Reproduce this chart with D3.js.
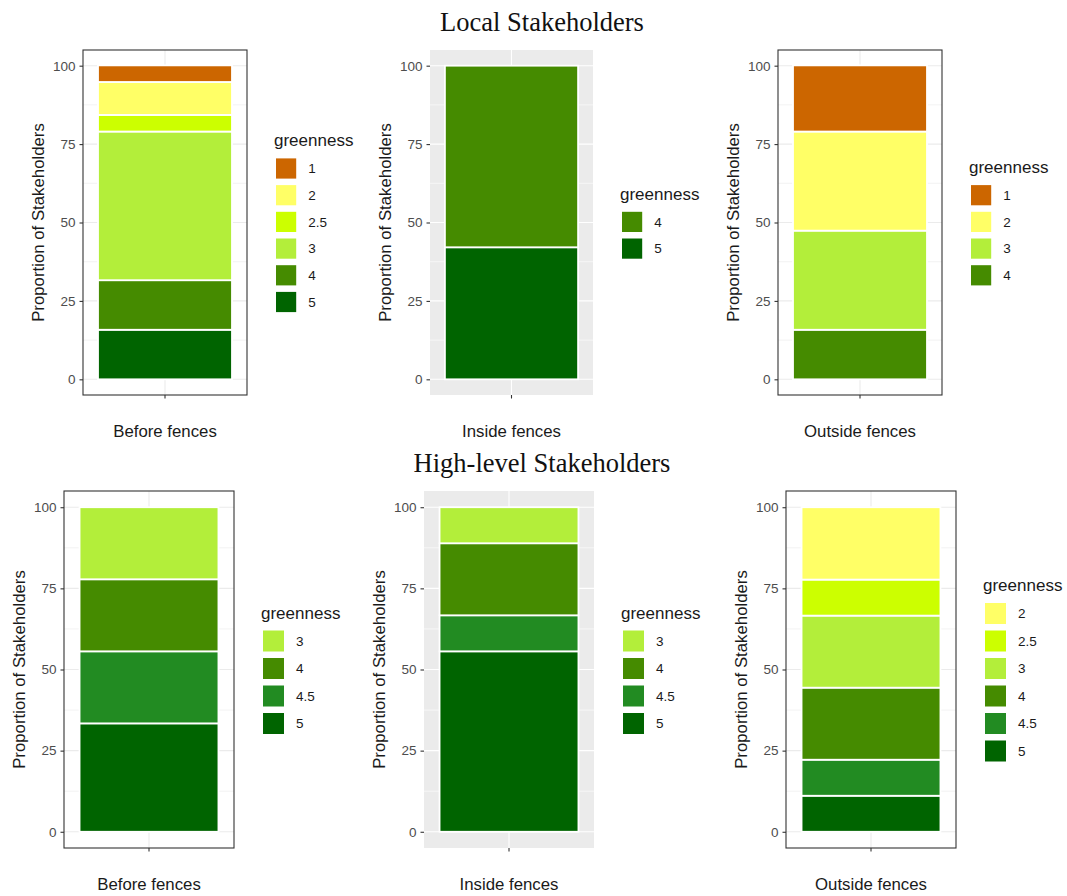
<!DOCTYPE html>
<html>
<head>
<meta charset="utf-8">
<script src="https://cdn.jsdelivr.net/npm/d3@7"></script>
<style>
  html, body { margin: 0; padding: 0; background: #ffffff; }
  svg { display: block; }
</style>
</head>
<body>
<div id="chart"></div>
<script>
// ---------- DATA ----------
const groupTitles = ["Local Stakeholders", "High-level Stakeholders"];
const categories = ["Before fences", "Inside fences", "Outside fences"];
const greennessLevels = ["1", "2", "2.5", "3", "4", "4.5", "5"];
const greennessColors = ["#CC6600", "#FFFF66", "#CCFF00", "#B3EE3A", "#458B00", "#228B22", "#006400"];
const yTicks = [0, 25, 50, 75, 100];
const yTitle = "Proportion of Stakeholders";
const legendTitle = "greenness";

// Local stakeholders (percent per greenness level, top-of-stack first)
const localBeforeLevels = ["1", "2", "2.5", "3", "4", "5"];
const localBeforeValues = [5.3, 10.5, 5.3, 47.4, 15.8, 15.8];
const localInsideLevels = ["4", "5"];
const localInsideValues = [57.9, 42.1];
const localOutsideLevels = ["1", "2", "3", "4"];
const localOutsideValues = [21.1, 31.6, 31.6, 15.8];

// High-level stakeholders
const highBeforeLevels = ["3", "4", "4.5", "5"];
const highBeforeValues = [22.2, 22.2, 22.2, 33.4];
const highInsideLevels = ["3", "4", "4.5", "5"];
const highInsideValues = [11.1, 22.2, 11.1, 55.6];
const highOutsideLevels = ["2", "2.5", "3", "4", "4.5", "5"];
const highOutsideValues = [22.3, 11.1, 22.2, 22.2, 11.1, 11.1];

const panelData = [
  { group: 0, category: 0, levels: localBeforeLevels, values: localBeforeValues },
  { group: 0, category: 1, levels: localInsideLevels, values: localInsideValues },
  { group: 0, category: 2, levels: localOutsideLevels, values: localOutsideValues },
  { group: 1, category: 0, levels: highBeforeLevels, values: highBeforeValues },
  { group: 1, category: 1, levels: highInsideLevels, values: highInsideValues },
  { group: 1, category: 2, levels: highOutsideLevels, values: highOutsideValues }
];

// ---------- LAYOUT (styling, not data) ----------
const W = 1067, H = 896;
const rows = [ { top: 50, bottom: 395, keyStep: 26.7, titleY: 31 },
               { top: 491, bottom: 848, keyStep: 27.5, titleY: 472 } ];
const panelX = [ [83, 247, "bw"], [430, 593, "grey"], [778, 942, "bw"],
                 [64, 234, "bw"], [424, 594, "grey"], [786, 956, "bw"] ];

const color = d3.scaleOrdinal().domain(greennessLevels).range(greennessColors);

const svg = d3.select("#chart").append("svg")
  .attr("width", W).attr("height", H)
  .style("font-family", "'Liberation Sans', Arial, sans-serif");
svg.append("rect").attr("width", W).attr("height", H).attr("fill", "#ffffff");

// Group titles
groupTitles.forEach((t, i) => {
  svg.append("text")
    .attr("x", 542).attr("y", rows[i].titleY)
    .attr("text-anchor", "middle")
    .style("font-family", "'Liberation Serif', 'Times New Roman', serif")
    .style("font-size", "26.5px")
    .attr("fill", "#111")
    .text(t);
});

panelData.forEach((pd, idx) => {
  const row = rows[pd.group];
  const [x0, x1, theme] = panelX[idx];
  const y0 = row.top, y1 = row.bottom;
  const g = svg.append("g");

  const y = d3.scaleLinear().domain([-5, 105]).range([y1, y0]);
  const x = d3.scaleBand().domain([categories[pd.category]]).range([x0, x1])
    .paddingInner(0).paddingOuter(0.112);

  // Panel background
  g.append("rect").attr("x", x0).attr("y", y0).attr("width", x1 - x0).attr("height", y1 - y0)
    .attr("fill", theme === "grey" ? "#EBEBEB" : "#ffffff");

  const gridCol = theme === "grey" ? "#ffffff" : "#EBEBEB";
  // minor grid
  const minor = [12.5, 37.5, 62.5, 87.5];
  g.selectAll(".minor").data(minor).enter().append("line")
    .attr("x1", x0).attr("x2", x1)
    .attr("y1", d => y(d)).attr("y2", d => y(d))
    .attr("stroke", gridCol).attr("stroke-width", 0.6);
  // major grid
  g.selectAll(".major").data(yTicks).enter().append("line")
    .attr("x1", x0).attr("x2", x1)
    .attr("y1", d => y(d)).attr("y2", d => y(d))
    .attr("stroke", gridCol).attr("stroke-width", 1.1);
  const cx = x(categories[pd.category]) + x.bandwidth() / 2;
  g.append("line").attr("x1", cx).attr("x2", cx).attr("y1", y0).attr("y2", y1)
    .attr("stroke", gridCol).attr("stroke-width", 1.1);

  // Stacked bars: first level on top, so stack from the last level upward
  const order = pd.levels.map((l, i) => ({ level: l, value: pd.values[i] })).reverse();
  let acc = 0;
  const segs = order.map(d => { const s = { level: d.level, start: acc, end: acc + d.value }; acc += d.value; return s; });
  g.selectAll(".seg").data(segs).enter().append("rect")
    .attr("x", x(categories[pd.category]))
    .attr("width", x.bandwidth())
    .attr("y", d => y(d.end))
    .attr("height", d => y(d.start) - y(d.end))
    .attr("fill", d => color(d.level))
    .attr("stroke", "#ffffff").attr("stroke-width", 1.8);

  // Panel border (bw theme)
  if (theme === "bw") {
    g.append("rect").attr("x", x0).attr("y", y0).attr("width", x1 - x0).attr("height", y1 - y0)
      .attr("fill", "none").attr("stroke", "#333333").attr("stroke-width", 1.1);
  }

  // Y axis
  const yAxis = d3.axisLeft(y).tickValues(yTicks).tickSize(3.5).tickPadding(4);
  const ya = g.append("g").attr("transform", `translate(${x0},0)`).call(yAxis);
  ya.select(".domain").remove();
  ya.selectAll(".tick line").attr("stroke", "#333333").attr("stroke-width", 1.1);
  ya.selectAll(".tick text").attr("fill", "#4D4D4D")
    .style("font-size", "13.5px").style("font-family", "'Liberation Sans', Arial, sans-serif");

  // X axis
  const xAxis = d3.axisBottom(x).tickSize(3.5).tickPadding(20);
  const xa = g.append("g").attr("transform", `translate(0,${y1})`).call(xAxis);
  xa.select(".domain").remove();
  xa.selectAll(".tick line").attr("stroke", "#333333").attr("stroke-width", 1.1);
  xa.selectAll(".tick text").attr("fill", "#1a1a1a")
    .style("font-size", "16.8px").style("font-family", "'Liberation Sans', Arial, sans-serif")
    .attr("dy", null).attr("y", 42);

  // Y title
  g.append("text")
    .attr("transform", `translate(${x0 - 39},${(y0 + y1) / 2}) rotate(-90)`)
    .attr("text-anchor", "middle")
    .style("font-size", "16.8px")
    .attr("fill", "#1a1a1a")
    .text(yTitle);

  // Legend
  const step = row.keyStep;
  const keySize = step - 6.5;
  const titleH = 22;
  const center = (y0 + y1) / 2 + 5;
  const keysTop = center - (titleH + pd.levels.length * step) / 2 + titleH;
  const lx = x1 + 29;
  const lg = g.append("g");
  lg.append("text").attr("x", lx - 2).attr("y", keysTop - 12)
    .style("font-size", "17px").attr("fill", "#1a1a1a").text(legendTitle);
  const items = lg.selectAll(".item").data(pd.levels).enter().append("g")
    .attr("transform", (d, i) => `translate(${lx},${keysTop + i * step})`);
  items.append("rect").attr("width", keySize).attr("height", keySize)
    .attr("fill", d => color(d));
  items.append("text").attr("x", keySize + 12).attr("y", keySize / 2).attr("dy", "0.35em")
    .style("font-size", "13.5px").attr("fill", "#1a1a1a").text(d => d);
});
</script>
</body>
</html>
